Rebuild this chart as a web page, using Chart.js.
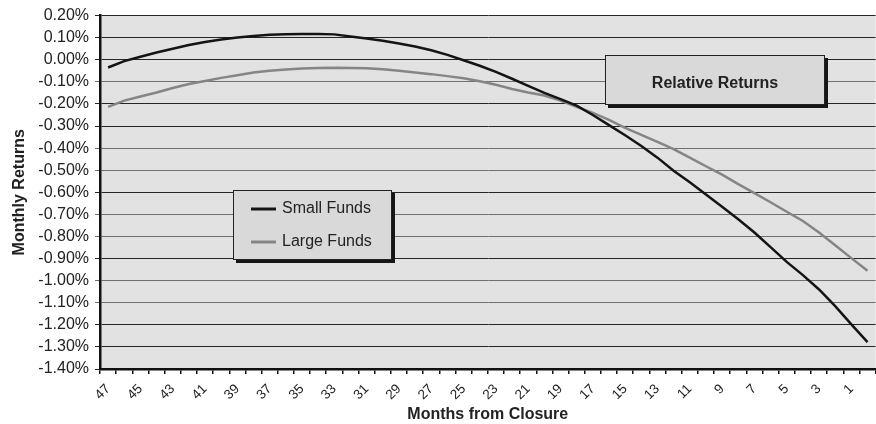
<!DOCTYPE html>
<html>
<head>
<meta charset="utf-8">
<script src="https://cdn.jsdelivr.net/npm/chart.js@4.4.1/dist/chart.umd.min.js"></script>
<style>
  html, body { margin: 0; padding: 0; background: #fff; overflow: hidden; width: 876px; height: 424px; }
  #wrap { position: relative; width: 886px; height: 424px; }
</style>
</head>
<body>
<div id="wrap"><canvas id="c" width="886" height="424"></canvas></div>
<script>
// Months remaining until fund closure, counting down to zero
const months = [47, 46, 45, 44, 43, 42, 41, 40, 39, 38, 37, 36, 35, 34, 33, 32,
                31, 30, 29, 28, 27, 26, 25, 24, 23, 22, 21, 20, 19, 18, 17, 16,
                15, 14, 13, 12, 11, 10, 9, 8, 7, 6, 5, 4, 3, 2, 1, 0];

// Average monthly relative returns (%), small funds
const smallFunds = [-0.035, -0.006, 0.014, 0.033, 0.050, 0.067, 0.080, 0.092,
                    0.101, 0.108, 0.113, 0.116, 0.117, 0.117, 0.115, 0.105,
                    0.096, 0.086, 0.074, 0.060, 0.043, 0.022, -0.002, -0.027,
                    -0.055, -0.086, -0.118, -0.150, -0.178, -0.208, -0.250, -0.296,
                    -0.342, -0.390, -0.443, -0.502, -0.555, -0.610, -0.665, -0.722,
                    -0.782, -0.848, -0.915, -0.975, -1.040, -1.115, -1.198, -1.278];

// Average monthly relative returns (%), large funds
const largeFunds = [-0.213, -0.185, -0.166, -0.148, -0.128, -0.110, -0.096, -0.082,
                    -0.070, -0.058, -0.050, -0.044, -0.040, -0.037, -0.036, -0.037,
                    -0.038, -0.043, -0.050, -0.058, -0.065, -0.074, -0.084, -0.097,
                    -0.113, -0.132, -0.148, -0.162, -0.185, -0.213, -0.240, -0.272,
                    -0.308, -0.340, -0.372, -0.405, -0.443, -0.482, -0.520, -0.563,
                    -0.604, -0.645, -0.688, -0.730, -0.782, -0.840, -0.898, -0.955];

// Value axis range and step (%)
const yMin = -1.4;
const yMax = 0.2;
const yStep = 0.1;

// Gridline tones from the top line down (true = dark rule, false = lighter rule)
const darkRules = [true, true, true, false, true, true, false, false, true,
                   false, false, true, false, false, true, true, true];

const FONT = "'Liberation Sans', Arial, Helvetica, sans-serif";

// Grey plotting area behind the series
const plotBackground = {
  id: 'plotBackground',
  beforeDraw(chart) {
    const { ctx, chartArea: a } = chart;
    ctx.save();
    ctx.fillStyle = '#e2e2e2';
    ctx.fillRect(a.left, a.top, a.right - a.left, a.bottom - a.top);
    ctx.restore();
  }
};

// Boxed title and legend with drop shadows, drawn over the plot
function shadowBox(ctx, x, y, w, h) {
  ctx.fillStyle = '#161616';
  ctx.fillRect(x + 3, y + 3, w, h);
  ctx.fillStyle = '#d9d9d9';
  ctx.fillRect(x, y, w, h);
  ctx.strokeStyle = '#222';
  ctx.lineWidth = 1;
  ctx.strokeRect(x + 0.5, y + 0.5, w - 1, h - 1);
}

const boxes = {
  id: 'boxes',
  afterDraw(chart) {
    const ctx = chart.ctx;
    ctx.save();
    // title box
    shadowBox(ctx, 605, 55, 220, 50);
    ctx.fillStyle = '#222';
    ctx.font = 'bold 16px ' + FONT;
    ctx.textAlign = 'center';
    ctx.textBaseline = 'middle';
    ctx.fillText('Relative Returns', 715, 84);

    // legend box
    shadowBox(ctx, 233, 190, 159, 70);
    ctx.font = '16px ' + FONT;
    ctx.textAlign = 'left';
    chart.data.datasets.forEach((ds, i) => {
      const y = 209 + i * 33;
      ctx.strokeStyle = ds.borderColor;
      ctx.lineWidth = 3;
      ctx.beginPath();
      ctx.moveTo(251, y);
      ctx.lineTo(276, y);
      ctx.stroke();
      ctx.fillStyle = '#222';
      ctx.fillText(ds.label, 282, y);
    });
    ctx.restore();
  }
};

new Chart(document.getElementById('c'), {
  type: 'line',
  data: {
    labels: months,
    datasets: [
      { label: 'Small Funds', data: smallFunds, borderColor: '#141414', borderWidth: 2.5,
        pointRadius: 0, tension: 0 },
      { label: 'Large Funds', data: largeFunds, borderColor: '#858585', borderWidth: 2.5,
        pointRadius: 0, tension: 0 }
    ]
  },
  options: {
    responsive: false,
    animation: false,
    devicePixelRatio: 1,
    layout: { padding: { top: 9, right: 2, bottom: 0, left: 0 } },
    plugins: {
      legend: { display: false },
      tooltip: { enabled: false }
    },
    scales: {
      x: {
        offset: true,
        afterFit(scale) { scale.height = 55; },
        grid: { offset: true, drawOnChartArea: false, drawTicks: true, tickLength: 5, color: '#111', lineWidth: 1.5 },
        border: { display: true, color: '#111', width: 2.5 },
        ticks: {
          autoSkip: false,
          minRotation: 45,
          maxRotation: 45,
          padding: 7,
          color: '#222',
          font: { family: FONT, size: 13.5 },
          callback(value, index) {
            const m = months[index];
            return m % 2 === 1 ? String(m) : '';
          }
        },
        title: {
          display: true,
          text: 'Months from Closure',
          color: '#222',
          font: { family: FONT, size: 16, weight: 'bold' },
          padding: { top: 0, bottom: 0 }
        }
      },
      y: {
        min: yMin,
        max: yMax,
        afterFit(scale) { scale.width = 100; },
        grid: {
          color(ctx) {
            const i = ctx.scale.ticks.length - 1 - ctx.index;
            return darkRules[i] === false ? '#707070' : '#262626';
          },
          lineWidth: 1,
          tickLength: 5,
          drawTicks: true
        },
        border: { display: true, color: '#111', width: 2.5 },
        ticks: {
          autoSkip: false,
          stepSize: yStep,
          padding: 6,
          color: '#222',
          font: { family: FONT, size: 16 },
          callback(value) {
            const v = Math.abs(value) < 1e-9 ? 0 : value;
            return v.toFixed(2) + '%';
          }
        },
        title: {
          display: true,
          text: 'Monthly Returns',
          color: '#222',
          font: { family: FONT, size: 16, weight: 'bold' },
          padding: { top: 10, bottom: 0 }
        }
      }
    }
  },
  plugins: [plotBackground, boxes]
});
</script>
</body>
</html>
